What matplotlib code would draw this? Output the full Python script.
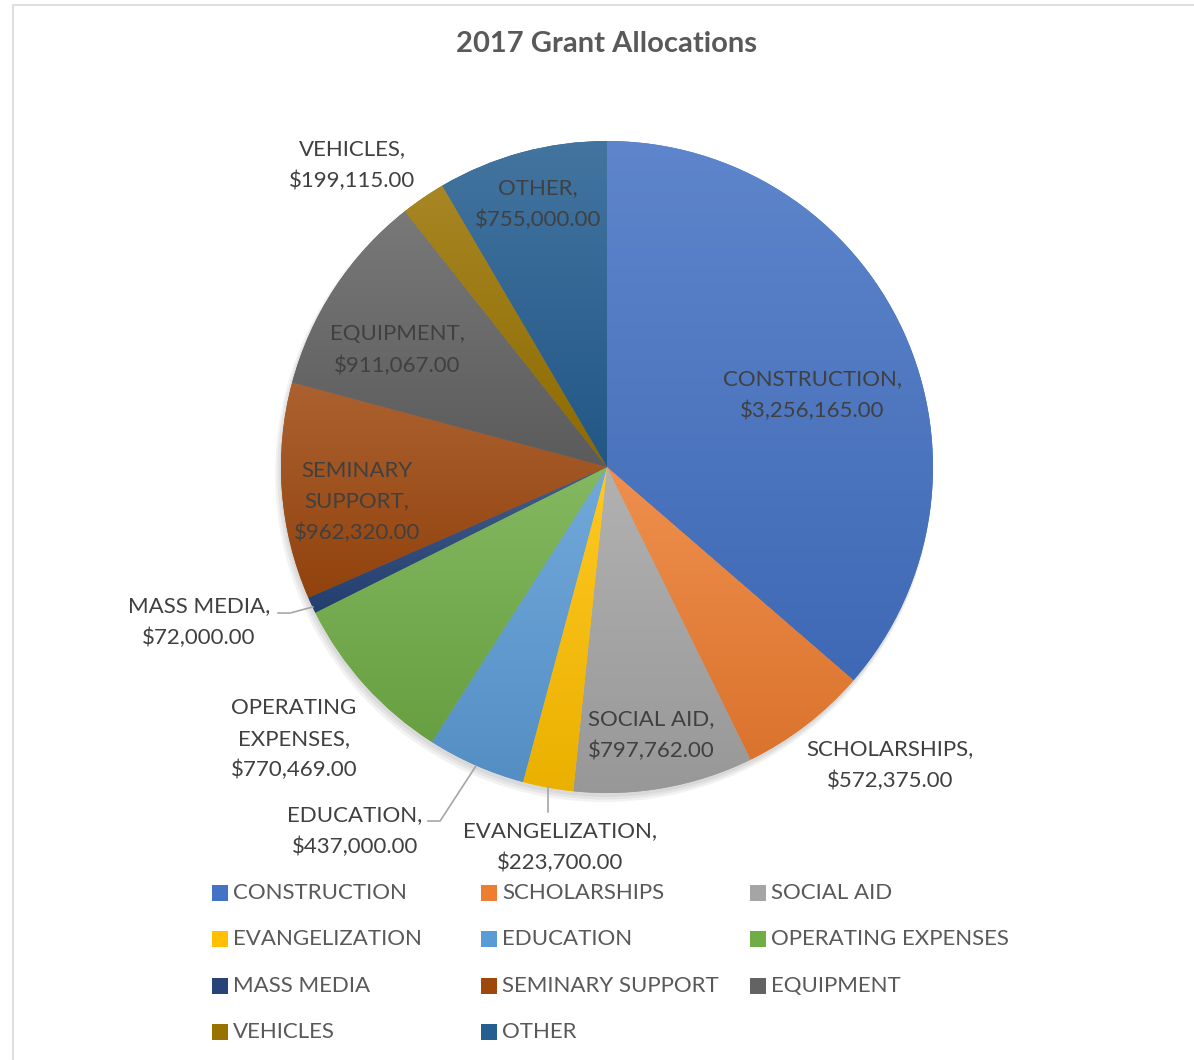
import numpy as np
import matplotlib.pyplot as plt
from matplotlib.patches import Rectangle, Circle
from matplotlib.colors import to_rgb

# data
categories = ['CONSTRUCTION', 'SCHOLARSHIPS', 'SOCIAL AID', 'EVANGELIZATION',
              'EDUCATION', 'OPERATING EXPENSES', 'MASS MEDIA', 'SEMINARY SUPPORT',
              'EQUIPMENT', 'VEHICLES', 'OTHER']
amounts = [3256165.00, 572375.00, 797762.00, 223700.00, 437000.00, 770469.00,
           72000.00, 962320.00, 911067.00, 199115.00, 755000.00]
colors = ['#4472C4', '#ED7D31', '#A5A5A5', '#FFC000', '#5B9BD5', '#70AD47',
          '#264478', '#9E480E', '#636363', '#997300', '#255E91']

# label text broken over lines like in the original
label_names = ['CONSTRUCTION,', 'SCHOLARSHIPS,', 'SOCIAL AID,', 'EVANGELIZATION,',
               'EDUCATION,', 'OPERATING\nEXPENSES,', 'MASS MEDIA,', 'SEMINARY\nSUPPORT,',
               'EQUIPMENT,', 'VEHICLES,', 'OTHER,']

# layout: label centres in pie-radius units, leader lines where used
label_pos = [(0.629, 0.221), (0.868, -0.914), (0.135, -0.822), (-0.144, -1.166),
             (-0.773, -1.117), (-0.960, -0.835), (-1.252, -0.475), (-0.767, -0.107),
             (-0.644, 0.359), (-0.782, 0.926), (-0.212, 0.807)]
leaders = {
    3: [(-0.181, -0.982), (-0.181, -1.058)],
    4: [(-0.402, -0.917), (-0.512, -1.086), (-0.549, -1.086)],
    6: [(-0.902, -0.429), (-0.972, -0.448), (-1.009, -0.448)],
}

plt.rcParams['font.family'] = ['Lato', 'DejaVu Sans']

W, H = 1194, 1060
cx, cy, R = 607, 467, 326

fig = plt.figure(figsize=(W / 100, H / 100), dpi=100)
ax = fig.add_axes([0, 0, 1, 1])


def lim():
    ax.set_xlim(-cx / R, (W - cx) / R)
    ax.set_ylim((cy - H) / R, cy / R)


def mix(c, other, t):
    c = np.array(to_rgb(c))
    return c * (1 - t) + np.array(other) * t


# soft shadow under the pie
for k, a in enumerate([0.05, 0.05, 0.05]):
    ax.add_patch(Circle((-0.004 - 0.003 * k, -0.012 - 0.004 * k), 1.0 + 0.004 * k,
                        color='black', alpha=a, lw=0, zorder=0.5))

wedges, _ = ax.pie(amounts, startangle=90, counterclock=False, radius=1,
                   colors=colors, wedgeprops=dict(linewidth=0))

g = np.linspace(0, 1, 256)[:, None, None]
for w, c in zip(wedges, colors):
    ext = w.get_path().get_extents()
    top = mix(c, (1, 1, 1), 0.14)
    bot = mix(c, (0, 0, 0), 0.08)
    img = top[None, None, :] * (1 - g) + bot[None, None, :] * g
    im = ax.imshow(img, extent=(ext.x0, ext.x1, ext.y0, ext.y1), origin='upper',
                   aspect='auto', interpolation='bilinear', zorder=1.5)
    im.set_clip_path(w)

for i, (name, val) in enumerate(zip(label_names, amounts)):
    txt = name + '\n' + '${:,.2f}'.format(val)
    ax.text(label_pos[i][0], label_pos[i][1], txt, ha='center', va='center',
            multialignment='center', fontsize=16, color='#404040',
            linespacing=1.68, zorder=3)

for i, pts in leaders.items():
    xs, ys = zip(*pts)
    ax.plot(xs, ys, color='#A6A6A6', lw=1.2, zorder=3)

lim()
ax.set_aspect('auto')
ax.axis('off')

fig.text(607 / W, 1 - 44 / H, '2017 Grant Allocations', ha='center', va='center',
         fontsize=21, fontweight='bold', color='#595959')

# legend, filled row by row in three equal columns
for i, name in enumerate(categories):
    row, col = i // 3, i % 3
    x = (212 + col * 269) / W
    y = 1 - (893 + row * 46.3) / H
    fig.patches.append(Rectangle((x, y - 8 / H), 16 / W, 16 / H, transform=fig.transFigure,
                                 facecolor=colors[i], lw=0))
    fig.text(x + 21 / W, y, name, ha='left', va='center', fontsize=16, color='#595959')

# chart border
fig.patches.append(Rectangle((13 / W, -0.05), 1.1, 1.05 - 5 / H, transform=fig.transFigure,
                             fill=False, edgecolor='#D9D9D9', lw=1.2))

fig.savefig('out.png', dpi=100)
